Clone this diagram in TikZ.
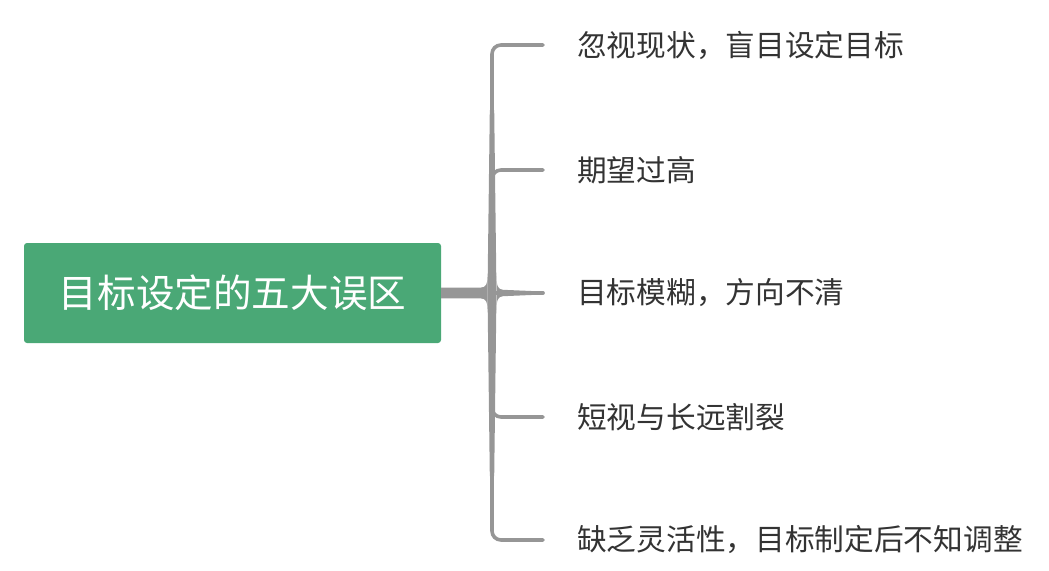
\documentclass[tikz,border=0pt]{standalone}
\usepackage{fontspec}
\newfontfamily\cjk{Noto Sans CJK SC}
\definecolor{rootgreen}{HTML}{4AA876}
\definecolor{linegray}{HTML}{969696}
\definecolor{txt}{HTML}{333333}
\tikzset{
  rootbox/.style={fill=rootgreen, rounded corners=3pt, minimum width=417pt, minimum height=100pt, inner sep=0pt, text=white, font=\cjk\fontsize{38.6}{40}\selectfont},
  leaf/.style={anchor=west, inner sep=0pt, text=txt, font=\cjk\fontsize{29.7}{31}\selectfont},
  branch/.style={draw=linegray, line width=3.6pt, line cap=round, rounded corners=9pt},
}
\begin{document}
\begin{tikzpicture}[x=1pt,y=-1pt]
\useasboundingbox (0,0) rectangle (1049,570);
\node[rootbox] (root) at (232.5,293) {目标设定的五大误区};
\node[leaf] (l1) at (577,45) {忽视现状，盲目设定目标};
\node[leaf] (l2) at (577,170) {期望过高};
\node[leaf] (l3) at (577,293) {目标模糊，方向不清};
\node[leaf] (l4) at (577,417) {短视与长远割裂};
\node[leaf] (l5) at (577,540) {缺乏灵活性，目标制定后不知调整};
\coordinate (J) at (492,293);
\coordinate (b1) at (543,45);
\coordinate (b2) at (543,170);
\coordinate (b3) at (543,293);
\coordinate (b4) at (543,417);
\coordinate (b5) at (543,540);
% trunk from root
\fill[linegray] ([yshift=5.3pt]root.east) -- (480,287.7)
  .. controls (486,287.7) and (487.5,284) .. (487.5,277) -- (487.5,309)
  .. controls (487.5,302) and (486,298.3) .. (480,298.3) -- ([yshift=-5.3pt]root.east) -- cycle;
% tapered vertical
\fill[linegray] (487.5,293) -- (489.8,110) -- (494.2,110) -- (496.5,293) -- (494.2,476) -- (489.8,476) -- cycle;
% middle branch (tapered)
\fill[linegray] (496.5,276) .. controls (496.5,286) and (498,289.5) .. (503,289.8) -- (543,291.5)
  arc[start angle=-90, end angle=90, radius=1.5] -- (503,296.2)
  .. controls (498,296.5) and (496.5,300) .. (496.5,310) -- cycle;
% branches
\draw[branch] (J) |- (b1);
\draw[branch] (J) |- (b2);
\draw[branch] (J) |- (b4);
\draw[branch] (J) |- (b5);
\draw[branch] (J) -- (b3);
\end{tikzpicture}
\end{document}
